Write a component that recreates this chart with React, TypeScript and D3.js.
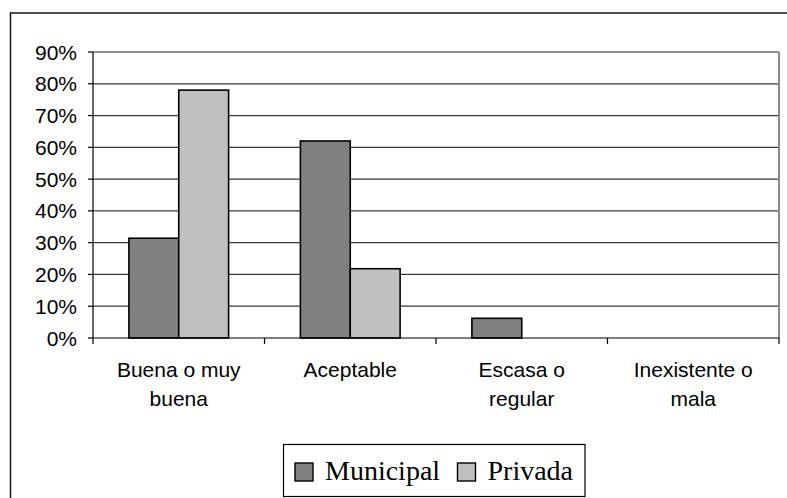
import React from "react";
import * as d3 from "d3";

const categories: string[][] = [
  ["Buena o muy", "buena"],
  ["Aceptable"],
  ["Escasa o", "regular"],
  ["Inexistente o", "mala"],
];
const seriesNames = ["Municipal", "Privada"];
const municipal = [0.314, 0.62, 0.062, 0];
const privada = [0.78, 0.218, 0, 0];
const yTicks = [0, 0.1, 0.2, 0.3, 0.4, 0.5, 0.6, 0.7, 0.8, 0.9];
const colors = ["#808080", "#c0c0c0"];

export default function App() {
  const W = 787, H = 498;
  const left = 93, right = 779, top = 52, bottom = 338;
  const x = d3.scaleBand<number>().domain(d3.range(categories.length)).range([left, right]).paddingInner(0).paddingOuter(0);
  const inner = d3.scaleBand<number>().domain([0, 1]).range([0, x.bandwidth()]).paddingOuter(0.72).paddingInner(0);
  const y = d3.scaleLinear().domain([0, 0.9]).range([bottom, top]);
  const fmt = d3.format(".0%");
  const series = [municipal, privada];
  const font = "'Liberation Sans', Arial, sans-serif";

  return (
    <svg width={W} height={H} style={{ position: "absolute", left: 0, top: 0, background: "#fff" }}>
      <rect x={10.5} y={13} width={900} height={600} fill="#fff" stroke="#222" strokeWidth={1.6} />
      {/* gridlines */}
      {yTicks.slice(1).map((t) => (
        <line key={t} x1={left} x2={right} y1={y(t)} y2={y(t)} stroke="#3a3a3a" strokeWidth={1.2} />
      ))}
      {/* plot right border */}
      <line x1={right} x2={right} y1={top} y2={bottom} stroke="#8a8a8a" strokeWidth={2} />
      <line x1={left} x2={right} y1={top} y2={top} stroke="#8a8a8a" strokeWidth={1.6} />
      {/* bars */}
      {series.map((vals, s) =>
        vals.map((v, i) =>
          v > 0 ? (
            <rect
              key={`${s}-${i}`}
              x={(x(i) as number) + (inner(s) as number)}
              y={y(v)}
              width={inner.bandwidth()}
              height={y(0) - y(v)}
              fill={colors[s]}
              stroke="#000"
              strokeWidth={1.6}
            />
          ) : null
        )
      )}
      {/* y axis */}
      <line x1={left} x2={left} y1={top} y2={bottom} stroke="#000" strokeWidth={1.2} />
      {yTicks.map((t) => (
        <g key={"yt" + t}>
          <line x1={left - 5} x2={left} y1={y(t)} y2={y(t)} stroke="#000" strokeWidth={1.2} />
          <text x={77} y={y(t)} dy="0.36em" textAnchor="end" fontFamily={font} fontSize={21} fill="#000">
            {fmt(t)}
          </text>
        </g>
      ))}
      {/* x axis */}
      <line x1={left} x2={right} y1={bottom} y2={bottom} stroke="#000" strokeWidth={1.2} />
      {d3.range(categories.length + 1).map((i) => {
        const xx = i < categories.length ? (x(i) as number) : right;
        return <line key={"xt" + i} x1={xx} x2={xx} y1={bottom} y2={bottom + 6} stroke="#000" strokeWidth={1.2} />;
      })}
      {categories.map((lines, i) => (
        <text key={"c" + i} x={(x(i) as number) + x.bandwidth() / 2} y={377} textAnchor="middle" fontFamily={font} fontSize={21} fill="#000">
          {lines.map((l, j) => (
            <tspan key={j} x={(x(i) as number) + x.bandwidth() / 2} dy={j === 0 ? 0 : 29}>
              {l}
            </tspan>
          ))}
        </text>
      ))}
      {/* legend */}
      <rect x={283.5} y={444.5} width={301.5} height={52} fill="#fff" stroke="#000" strokeWidth={1.2} />
      {seriesNames.map((n, s) => {
        const sx = s === 0 ? 295 : 457.5;
        return (
          <g key={n}>
            <rect x={sx} y={463} width={18} height={18} fill={colors[s]} stroke="#000" strokeWidth={1.4} />
            <text x={sx + 30} y={480} fontFamily="'Liberation Serif', 'Times New Roman', serif" fontSize={28} fill="#000">
              {n}
            </text>
          </g>
        );
      })}
    </svg>
  );
}
